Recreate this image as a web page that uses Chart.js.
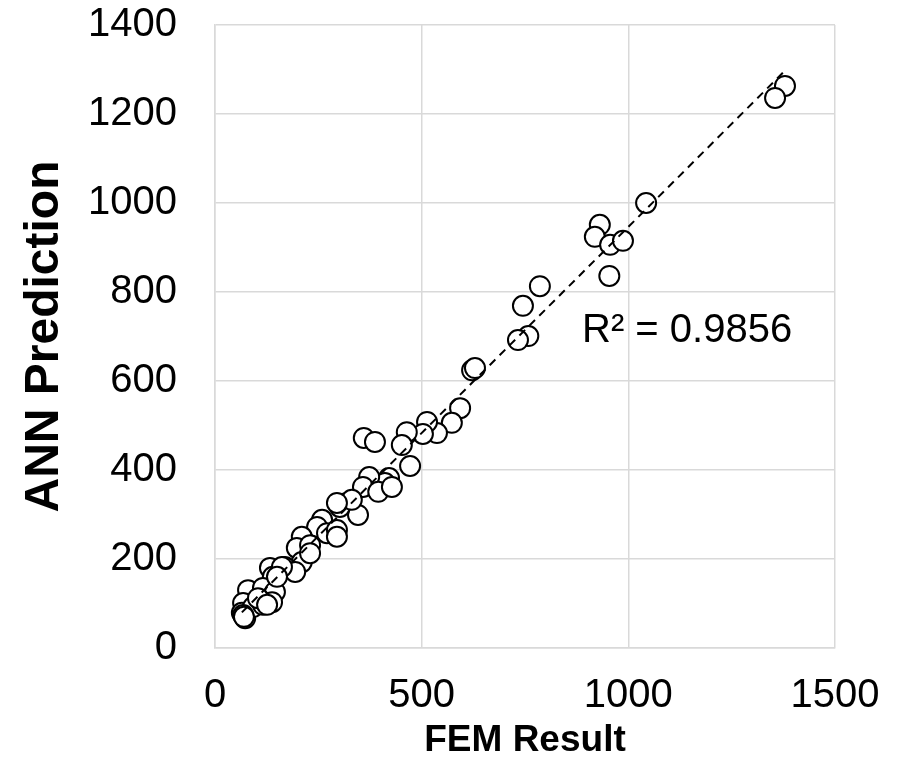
<!DOCTYPE html>
<html>
<head>
<meta charset="utf-8">
<script src="https://cdn.jsdelivr.net/npm/chart.js@4"></script>
<style>
    body { margin: 0; background: #fff; }
    #wrap { width: 900px; height: 768px; }
</style>
</head>
<body>
<div id="wrap"><canvas id="fitChart" width="900" height="768"></canvas></div>
<script>
// FEM result (x) vs ANN prediction (y)
const femResult = [
    1379, 1355, 1043, 931, 919, 956, 987, 954, 786, 745,
    758, 733, 622, 629, 593, 573, 537, 513, 503, 464,
    452, 472, 360, 387, 421, 411, 373, 358, 395, 428,
    319, 346, 302, 331, 295, 259, 247, 271, 295, 295,
    210, 198, 230, 210, 230, 169, 133, 194, 140, 162,
    80, 116, 145, 109, 138, 68, 65, 73, 92, 116,
    104, 126, 68, 70, 150
];
const annPrediction = [
    1263, 1236, 1000, 951, 924, 906, 915, 836, 813, 769,
    701, 692, 624, 629, 539, 506, 483, 508, 481, 485,
    456, 409, 472, 463, 382, 371, 384, 362, 351, 362,
    326, 299, 317, 333, 326, 288, 272, 258, 265, 250,
    250, 225, 231, 193, 213, 182, 180, 171, 160, 182,
    130, 135, 126, 108, 103, 101, 79, 67, 92, 97,
    112, 97, 74, 70, 160
];
const xTicks = [0, 500, 1000, 1500];
const yTicks = [0, 200, 400, 600, 800, 1000, 1200, 1400];
const r2Label = "R² = 0.9856";

const points = femResult.map((x, i) => ({ x: x, y: annPrediction[i] }));

// least squares trendline over the data range
function linearFit(xs, ys) {
    const n = xs.length;
    let sx = 0, sy = 0, sxx = 0, sxy = 0;
    for (let i = 0; i < n; i++) {
        sx += xs[i]; sy += ys[i];
        sxx += xs[i] * xs[i]; sxy += xs[i] * ys[i];
    }
    const slope = (n * sxy - sx * sy) / (n * sxx - sx * sx);
    const intercept = (sy - slope * sx) / n;
    return { slope, intercept };
}
const fit = linearFit(femResult, annPrediction);
const xMin = Math.min(...femResult);
const xMax = Math.max(...femResult);
const trend = [
    { x: xMin, y: fit.intercept + fit.slope * xMin },
    { x: xMax, y: fit.intercept + fit.slope * xMax }
];

const FONT = "'Liberation Sans', Arial, sans-serif";
const gridColor = "#d9d9d9";

const r2Plugin = {
    id: "r2Text",
    afterDatasetsDraw(chart) {
        const ctx = chart.ctx;
        const xs = chart.scales.x, ys = chart.scales.y;
        ctx.save();
        ctx.font = "40px " + FONT;
        ctx.fillStyle = "#000";
        ctx.textAlign = "left";
        ctx.textBaseline = "middle";
        ctx.fillText(r2Label, xs.getPixelForValue(888), ys.getPixelForValue(712));
        ctx.restore();
    }
};

new Chart(document.getElementById("fitChart"), {
    type: "scatter",
    data: {
        datasets: [
            {
                type: "line",
                label: "Trend",
                data: trend,
                borderColor: "#000",
                borderWidth: 2,
                borderDash: [8, 6],
                pointRadius: 0,
                fill: false,
                order: 0
            },
            {
                label: "Data",
                data: points,
                pointRadius: 10,
                pointBackgroundColor: "#fff",
                pointBorderColor: "#000",
                pointBorderWidth: 2,
                order: 1
            }
        ]
    },
    options: {
        responsive: false,
        animation: false,
        layout: { padding: { top: 25, right: 65, left: 0, bottom: 0 } },
        plugins: {
            legend: { display: false },
            tooltip: { enabled: false }
        },
        scales: {
            x: {
                type: "linear",
                min: 0,
                max: 1500,
                afterBuildTicks: axis => { axis.ticks = xTicks.map(v => ({ value: v })); },
                afterFit: axis => {
                    axis.height = 120;
                    axis.paddingLeft = 0;
                    axis.paddingRight = 0;
                },
                grid: { color: gridColor, lineWidth: 1.5, drawTicks: false },
                border: { color: gridColor, width: 1.5 },
                ticks: {
                    color: "#000",
                    padding: 24,
                    font: { family: FONT, size: 40 },
                    callback: v => String(v)
                },
                title: {
                    display: true,
                    text: "FEM Result",
                    color: "#000",
                    font: { family: FONT, size: 37, weight: "bold" },
                    padding: { top: 0, bottom: 5 }
                }
            },
            y: {
                type: "linear",
                min: 0,
                max: 1400,
                afterBuildTicks: axis => { axis.ticks = yTicks.map(v => ({ value: v })); },
                afterFit: axis => {
                    axis.width = 215;
                    axis.paddingTop = 0;
                    axis.paddingBottom = 0;
                },
                grid: { color: gridColor, lineWidth: 1.5, drawTicks: false },
                border: { color: gridColor, width: 1.5 },
                ticks: {
                    color: "#000",
                    padding: 38,
                    font: { family: FONT, size: 40 },
                    callback: v => String(v)
                },
                title: {
                    display: true,
                    text: "ANN Prediction",
                    color: "#000",
                    font: { family: FONT, size: 48, weight: "bold" },
                    padding: { top: 16, bottom: 0 }
                }
            }
        }
    },
    plugins: [r2Plugin]
});
</script>
</body>
</html>
